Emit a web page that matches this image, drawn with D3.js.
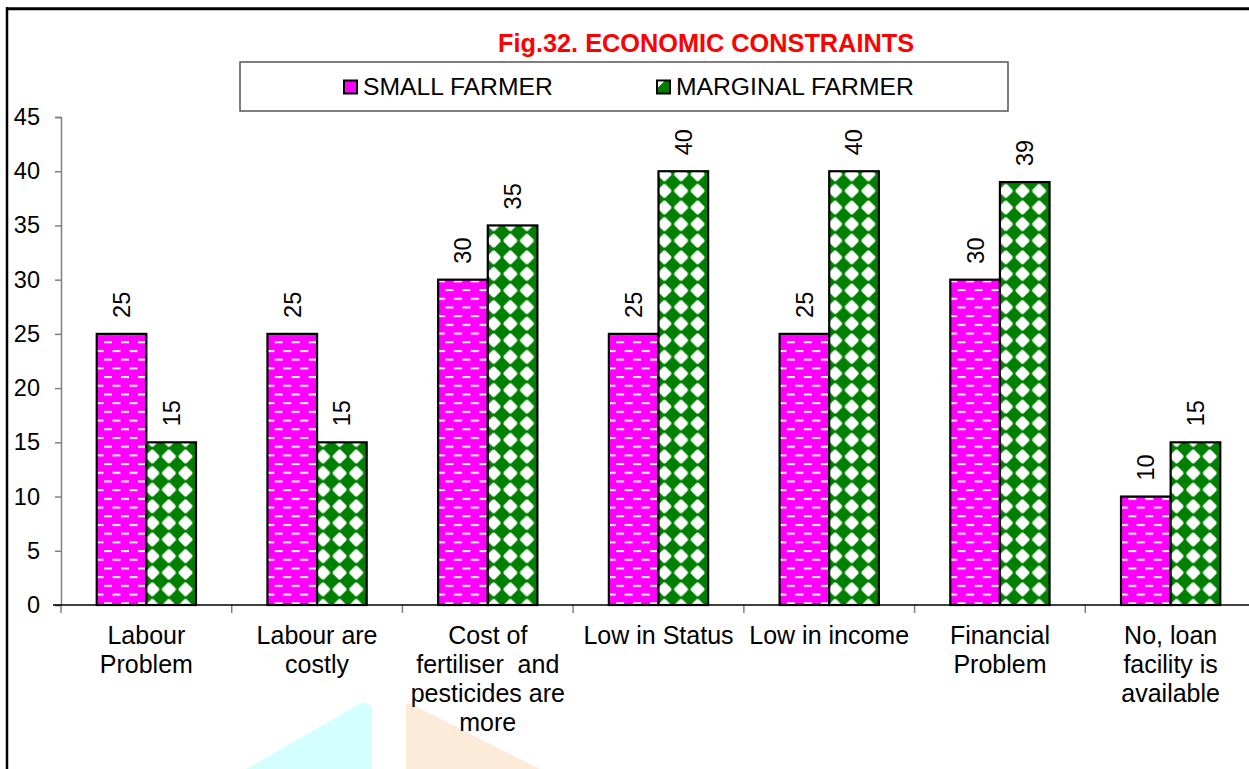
<!DOCTYPE html>
<html>
<head>
<meta charset="utf-8">
<script src="https://cdn.jsdelivr.net/npm/d3@7"></script>
<style>
  html, body { margin: 0; padding: 0; background: #fff; }
  svg { display: block; }
  text { font-family: Arial, "Liberation Sans", sans-serif; }
</style>
</head>
<body>
<svg id="chart" width="1249" height="769"></svg>
<script>
// ---- data ----
const categories = [
  "Labour Problem",
  "Labour are costly",
  "Cost of fertiliser and pesticides are more",
  "Low in Status",
  "Low in income",
  "Financial Problem",
  "No, loan facility is available"
];
const categoryLines = [
  ["Labour", "Problem"],
  ["Labour are", "costly"],
  ["Cost of", "fertiliser  and", "pesticides are", "more"],
  ["Low in Status"],
  ["Low in income"],
  ["Financial", "Problem"],
  ["No, loan", "facility is", "available"]
];
const seriesNames = ["SMALL FARMER", "MARGINAL FARMER"];
const smallFarmer = [25, 25, 30, 25, 25, 30, 10];
const marginalFarmer = [15, 15, 35, 40, 40, 39, 15];
const yTicks = [0, 5, 10, 15, 20, 25, 30, 35, 40, 45];
const titleText = "Fig.32. ECONOMIC CONSTRAINTS";

// ---- setup ----
const svg = d3.select("#chart");
const defs = svg.append("defs");

// pink dashed pattern
const pp = defs.append("pattern").attr("id", "pinkPat")
  .attr("patternUnits", "userSpaceOnUse")
  .attr("width", 17).attr("height", 17.4)
  .attr("x", 0).attr("y", 0);
pp.append("rect").attr("width", 17).attr("height", 17.4).attr("fill", "#ff00ff");
pp.append("rect").attr("x", 0.5).attr("y", 2).attr("width", 8).attr("height", 2).attr("fill", "#fff");
pp.append("rect").attr("x", 9).attr("y", 10.7).attr("width", 8).attr("height", 2).attr("fill", "#fff");

// green diamond pattern
const gp = defs.append("pattern").attr("id", "greenPat")
  .attr("patternUnits", "userSpaceOnUse")
  .attr("width", 16.6).attr("height", 16.6)
  .attr("x", 0).attr("y", 0);
gp.append("rect").attr("width", 16.6).attr("height", 16.6).attr("fill", "#008000");
gp.append("path").attr("d", "M7.4,1.5 L9.2,1.5 L15.1,7.4 L15.1,9.2 L9.2,15.1 L7.4,15.1 L1.5,9.2 L1.5,7.4 Z")
  .attr("fill", "#fff");

const fills = ["url(#pinkPat)", "url(#greenPat)"];

// watermark shapes
svg.append("path").attr("d", "M246,769 L363,702 L372,706 L372,769 Z").attr("fill", "#d4ffff");
svg.append("path").attr("d", "M406,769 L406,704 L411,704 L540,769 Z").attr("fill", "#fdebd9");

// outer frame
svg.append("line").attr("x1", 6).attr("x2", 1249).attr("y1", 8.7).attr("y2", 8.7)
  .attr("stroke", "#000").attr("stroke-width", 3);
svg.append("line").attr("x1", 7).attr("x2", 7).attr("y1", 7.2).attr("y2", 769)
  .attr("stroke", "#000").attr("stroke-width", 2.5);

// scales
const x = d3.scaleBand().domain(categories).range([61, 1256]).paddingInner(0).paddingOuter(0);
const xInner = d3.scaleBand().domain(seriesNames).range([0, x.bandwidth()]).paddingInner(0).paddingOuter(0.72);
const y = d3.scaleLinear().domain([0, 45]).range([605, 117]);

// y axis
const yAxis = d3.axisLeft(y).tickValues(yTicks).tickSize(6).tickPadding(15).tickFormat(d3.format("d"));
const yg = svg.append("g").attr("transform", "translate(61,0)").call(yAxis);
yg.select(".domain").attr("stroke", "#808080").attr("stroke-width", 1.5);
yg.selectAll(".tick line").attr("stroke", "#808080").attr("stroke-width", 1.5);
yg.selectAll(".tick text").attr("font-size", 23.5).attr("fill", "#000")
  .attr("font-family", "Arial, 'Liberation Sans', sans-serif");

// x axis ticks at band boundaries
const boundaries = categories.map(c => x(c)).concat([x(categories[categories.length - 1]) + x.bandwidth()]);
svg.append("g").selectAll("line").data(boundaries).join("line")
  .attr("x1", d => d).attr("x2", d => d).attr("y1", 605).attr("y2", 613)
  .attr("stroke", "#808080").attr("stroke-width", 1.5);

// bars
const rows = categories.map((c, i) => ({ cat: c, vals: [smallFarmer[i], marginalFarmer[i]] }));
const groups = svg.append("g").selectAll("g").data(rows).join("g")
  .attr("transform", d => `translate(${x(d.cat)},0)`);
groups.selectAll("rect").data(d => d.vals.map((v, j) => ({ v, s: seriesNames[j], j }))).join("rect")
  .attr("x", d => xInner(d.s))
  .attr("y", d => y(d.v))
  .attr("width", xInner.bandwidth())
  .attr("height", d => y(0) - y(d.v))
  .attr("fill", d => fills[d.j])
  .attr("stroke", "#000").attr("stroke-width", 2.2);

// data labels (rotated)
groups.selectAll("text.val").data(d => d.vals.map((v, j) => ({ v, s: seriesNames[j], j }))).join("text")
  .attr("class", "val")
  .attr("transform", d => `translate(${xInner(d.s) + xInner.bandwidth() / 2},${y(d.v) - 16}) rotate(-90)`)
  .attr("dy", "0.36em")
  .attr("text-anchor", "start")
  .attr("font-size", 23.5)
  .attr("fill", "#000")
  .text(d => d.v);

// x axis line
svg.append("line").attr("x1", 53).attr("x2", 1249).attr("y1", 605).attr("y2", 605)
  .attr("stroke", "#000").attr("stroke-width", 1.5);

// category labels
const xl = svg.append("g").selectAll("text").data(categories).join("text")
  .attr("x", d => x(d) + x.bandwidth() / 2)
  .attr("y", 644)
  .attr("text-anchor", "middle")
  .attr("font-size", 25)
  .attr("fill", "#000")
  .attr("xml:space", "preserve")
  .style("white-space", "pre");
xl.each(function (d, i) {
  const t = d3.select(this);
  categoryLines[i].forEach((ln, k) => {
    t.append("tspan").attr("x", x(d) + x.bandwidth() / 2).attr("dy", k === 0 ? 0 : 29).text(ln);
  });
});

// title
svg.append("text").attr("x", 706).attr("y", 52).attr("text-anchor", "middle")
  .attr("font-size", 25.3).attr("font-weight", "bold").attr("fill", "#ff0000")
  .text(titleText);

// legend
const lg = svg.append("g");
lg.append("rect").attr("x", 240).attr("y", 62).attr("width", 768).attr("height", 49)
  .attr("fill", "#fff").attr("stroke", "#555").attr("stroke-width", 1.5);
const legendX = [344, 657];
seriesNames.forEach((s, j) => {
  lg.append("rect").attr("x", legendX[j]).attr("y", 80.5).attr("width", 13).attr("height", 13)
    .attr("fill", j === 0 ? "#ff00ff" : "#008000").attr("stroke", "#000").attr("stroke-width", 2);
  if (j === 1) {
    lg.append("path").attr("d", `M${legendX[j] + 1},${80.5 + 1} L${legendX[j] + 7},${80.5 + 1} L${legendX[j] + 1},${80.5 + 7} Z`)
      .attr("fill", "#fff");
  }
  lg.append("text").attr("x", legendX[j] + 19).attr("y", 95).attr("font-size", 24.7).attr("fill", "#000").text(s);
});
</script>
</body>
</html>
